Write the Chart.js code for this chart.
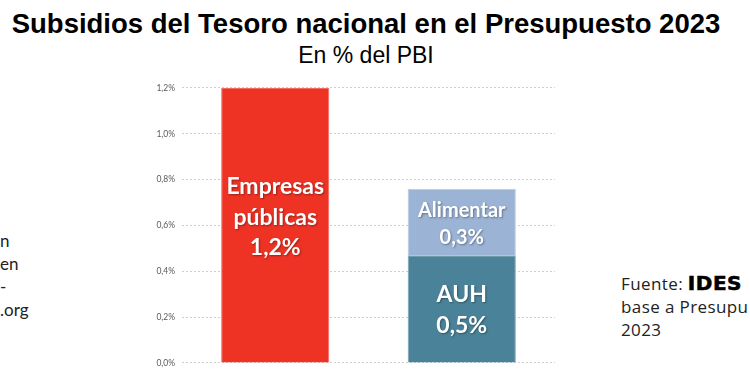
<!DOCTYPE html>
<html>
<head>
<meta charset="utf-8">
<script src="https://cdn.jsdelivr.net/npm/chart.js@4.4.0/dist/chart.umd.min.js"></script>
<style>
  html, body { margin: 0; padding: 0; background: #fff; }
  body { width: 750px; height: 375px; position: relative; overflow: hidden; }
  #chart-wrap { position: absolute; left: 0; top: 0; width: 750px; height: 375px; }
  .title { position: absolute; left: 0; width: 732px; top: 8px; text-align: center; font: bold 27.5px "Liberation Sans", Arial, sans-serif; color: #000; white-space: nowrap; }
  .subtitle { position: absolute; left: 0; width: 732px; top: 42px; text-align: center; font: 23px "Liberation Sans", Arial, sans-serif; color: #000; }
  .side { position: absolute; font: 17px Lato, "Open Sans", sans-serif; color: #222; line-height: 23px; white-space: nowrap; }
  .side.right { font: 17px "Open Sans", Lato, sans-serif; letter-spacing: 0.4px; }
  .side b { font: bold 20px "DejaVu Sans", "Liberation Sans", sans-serif; color: #000; letter-spacing: 0.5px; -webkit-text-stroke: 0.6px #000; }
</style>
</head>
<body>
<div class="title">Subsidios del Tesoro nacional en el Presupuesto 2023</div>
<div class="subtitle">En % del PBI</div>
<div class="side" style="left:0; top:229px;">n<br>en<br>-<br>.org</div>
<div class="side right" style="left:621px; top:271px;">Fuente: <b>IDES</b><br>base a Presupu<br>2023</div>
<div id="chart-wrap"><canvas id="chart"></canvas></div>
<script>
const categories = ['Empresas públicas', 'Transferencias sociales'];
const empresas = [1.2, null];
const auh = [null, 0.47];
const alimentar = [null, 0.29];
const yTicks = ['0,0%', '0,2%', '0,4%', '0,6%', '0,8%', '1,0%', '1,2%'];
const barLabels = [['Empresas', 'públicas', '1,2%'], ['AUH', '0,5%'], ['Alimentar', '0,3%']];

// white labels in the middle of each bar
const barText = {
  id: 'barText',
  afterDatasetsDraw(chart) {
    const ctx = chart.ctx;
    chart.data.datasets.forEach((ds, di) => {
      const meta = chart.getDatasetMeta(di);
      meta.data.forEach((bar, i) => {
        if (ds.data[i] == null) return;
        const lines = barLabels[di];
        const mid = (bar.y + bar.base) / 2 + (ds.labelShift || 0);
        ctx.save();
        ctx.font = `bold ${ds.labelSize}px Lato, "Open Sans", sans-serif`;
        ctx.textAlign = 'center';
        ctx.textBaseline = 'middle';
        ctx.fillStyle = '#fff';
        ctx.shadowColor = 'rgba(0,0,0,0.35)';
        ctx.shadowOffsetX = 1;
        ctx.shadowOffsetY = 1;
        ctx.shadowBlur = 2;
        lines.forEach((t, k) => {
          ctx.fillText(t, bar.x, mid + (k - (lines.length - 1) / 2) * ds.lineGap);
        });
        ctx.restore();
      });
    });
  },
};

new Chart(document.getElementById('chart'), {
  type: 'bar',
  data: {
    labels: categories,
    datasets: [
      { label: 'Empresas públicas', data: empresas, backgroundColor: '#ee3224', borderColor: '#f36a5f', borderWidth: 1, labelSize: 23, lineGap: 30.5, labelShift: -8 },
      { label: 'AUH', data: auh, backgroundColor: '#4a8399', borderColor: '#7aa4b5', borderWidth: 1, labelSize: 23, lineGap: 31, labelShift: 1 },
      { label: 'Alimentar', data: alimentar, backgroundColor: '#9bb3d4', borderColor: '#b9cbe2', borderWidth: 1, labelSize: 20, lineGap: 27, labelShift: 2 },
    ],
  },
  options: {
    responsive: true,
    maintainAspectRatio: false,
    animation: false,
    categoryPercentage: 1,
    barPercentage: 0.58,
    layout: { padding: { left: 140, right: 195, top: 88, bottom: 8 } },
    plugins: { legend: { display: false }, tooltip: { enabled: false } },
    scales: {
      x: { stacked: true, display: false },
      y: {
        stacked: true,
        min: 0,
        max: 1.2,
        afterFit: (scale) => { scale.width = 42; },
        afterBuildTicks: (scale) => { scale.ticks = yTicks.map((_, i) => ({ value: i * 0.2 })); },
        border: { display: false, dash: [2, 2] },
        grid: { color: '#cfcfcf', drawTicks: false },
        ticks: {
          padding: 7,
          color: '#595959',
          font: { family: 'Lato, "Open Sans", sans-serif', size: 8.5 },
          callback: (v, i) => yTicks[i],
        },
      },
    },
  },
  plugins: [barText],
});
</script>
</body>
</html>
